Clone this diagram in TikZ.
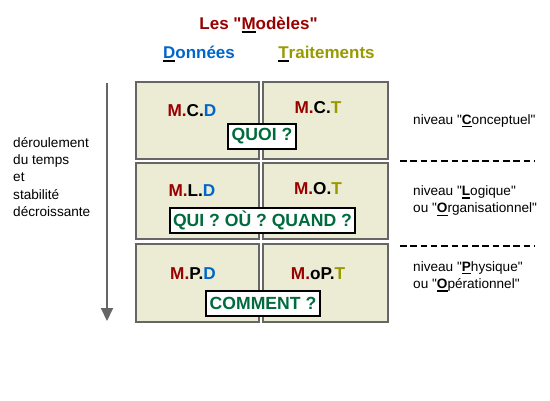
\documentclass[tikz,border=0pt]{standalone}
\usepackage{fontspec}
\setmainfont{Liberation Sans}
\newfontfamily\nf{Liberation Sans}
\usetikzlibrary{arrows.meta}
\definecolor{mred}{HTML}{990000}
\definecolor{mblue}{HTML}{0066CC}
\definecolor{molive}{HTML}{999900}
\definecolor{mgreen}{HTML}{006B3C}
\definecolor{boxgray}{HTML}{666666}
\definecolor{boxfill}{HTML}{ECECD5}
\newcommand\qt{\char34\relax}
\newcommand\uln[1]{\leavevmode\setbox0\hbox{#1}\rlap{\textcolor{black}{\rule[-3.2pt]{\wd0}{1.3pt}}}\box0}
\newcommand\bigf{\nf\fontsize{17.2}{20}\selectfont\bfseries}
\newcommand\smallf{\nf\fontsize{13.6}{17.3}\selectfont}
\begin{document}
\begin{tikzpicture}[x=1pt,y=-1pt,
  mbox/.style={draw=boxgray, line width=2pt, fill=boxfill, inner sep=0pt},
  mlabel/.style={font=\bigf, inner sep=0pt},
  qbox/.style={draw=black, line width=2pt, fill=white, text=mgreen,
    font=\nf\fontsize{17.6}{20}\selectfont\bfseries, inner xsep=3.5pt, inner ysep=0pt, minimum height=25pt},
  head/.style={font=\nf\fontsize{17}{20}\selectfont\bfseries, inner sep=0pt, anchor=base},
  side/.style={font=\smallf, align=left, inner sep=0pt, anchor=north west},
  sep/.style={line width=1.5pt, dash pattern=on 6.5pt off 3.8pt},
  timearrow/.style={draw=boxgray, line width=2pt, -{Triangle[width=12pt,length=13pt]}}]
\useasboundingbox (0,0) rectangle (550,400);

% header
\node[head, text=mred] (hm) at (258.5,29.5) {Les \qt\uln{M}odèles\qt};
\node[head, text=mblue] (hd) at (199,58.5) {\uln{D}onnées};
\node[head, text=molive] (ht) at (326.5,58.5) {\uln{T}raitements};

% boxes
\node[mbox, minimum width=123pt, minimum height=77pt] (b11) at (197.5,120.5) {};
\node[mbox, minimum width=125pt, minimum height=77pt] (b12) at (325.5,120.5) {};
\node[mbox, minimum width=123pt, minimum height=76pt] (b21) at (197.5,201) {};
\node[mbox, minimum width=125pt, minimum height=76pt] (b22) at (325.5,201) {};
\node[mbox, minimum width=123pt, minimum height=78pt] (b31) at (197.5,283) {};
\node[mbox, minimum width=125pt, minimum height=78pt] (b32) at (325.5,283) {};

% labels in boxes
\node[mlabel] (l11) at (192,111) {\textcolor{mred}{M.}C.\textcolor{mblue}{D}};
\node[mlabel] (l12) at (318,108) {\textcolor{mred}{M.}C.\textcolor{molive}{T}};
\node[mlabel] (l21) at (192,190.5) {\textcolor{mred}{M.}L.\textcolor{mblue}{D}};
\node[mlabel] (l22) at (318,188.5) {\textcolor{mred}{M.}O.\textcolor{molive}{T}};
\node[mlabel] (l31) at (193,274) {\textcolor{mred}{M.}P.\textcolor{mblue}{D}};
\node[mlabel] (l32) at (318,274) {\textcolor{mred}{M.}oP.\textcolor{molive}{T}};

% question boxes
\node[qbox] (q1) at (262,136.5) {QUOI ?};
\node[qbox] (q2) at (262.5,220.5) {QUI ? OÙ ? QUAND ?};
\node[qbox] (q3) at (263,303.5) {COMMENT ?};

% right side
\node[side] (n1) at (413,114) {niveau \qt\uln{\textbf{C}}onceptuel\qt};
\node[side] (n2) at (413,185.5) {niveau \qt\uln{\textbf{L}}ogique\qt\\ou \qt\uln{\textbf{O}}rganisationnel\qt};
\node[side] (n3) at (413,261) {niveau \qt\uln{\textbf{P}}hysique\qt\\ou \qt\uln{\textbf{O}}pérationnel\qt};
\coordinate (s1a) at (400,161);
\coordinate (s1b) at (534,161);
\coordinate (s2a) at (400,246);
\coordinate (s2b) at (535,246);
\draw[sep] (s1a) -- (s1b);
\draw[sep] (s2a) -- (s2b);

% left side
\node[side] (tl) at (13,137) {déroulement\\du temps\\et\\stabilité\\décroissante};
\coordinate (aS) at (107,83);
\coordinate (aE) at (107,321);
\draw[timearrow] (aS) -- (aE);
\end{tikzpicture}
\end{document}
